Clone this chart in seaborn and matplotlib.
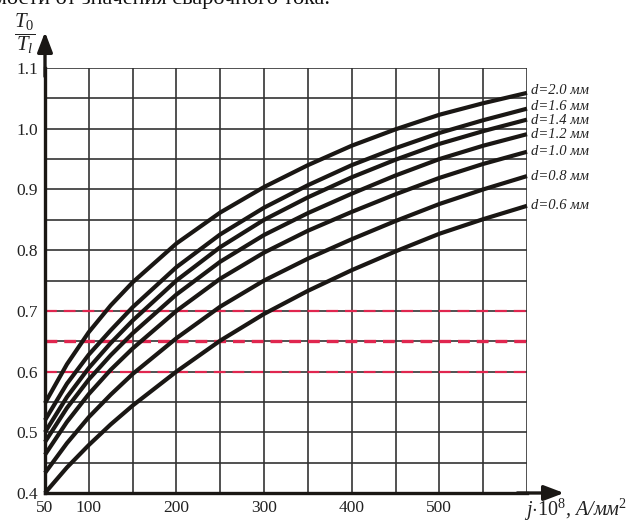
import numpy as np
import pandas as pd
import matplotlib
matplotlib.use("Agg")
import matplotlib.pyplot as plt
import seaborn as sns

# ---- data ----
j_values = [50, 75, 100, 125, 150, 200, 250, 300, 350, 400, 450, 500, 550, 600]
d_labels = ["d=2.0 мм", "d=1.6 мм", "d=1.4 мм", "d=1.2 мм", "d=1.0 мм", "d=0.8 мм", "d=0.6 мм"]
ratio_d20 = [0.548, 0.612, 0.665, 0.709, 0.747, 0.811, 0.862, 0.904, 0.940, 0.972, 0.999, 1.023, 1.042, 1.059]
ratio_d16 = [0.520, 0.580, 0.628, 0.668, 0.706, 0.772, 0.826, 0.870, 0.907, 0.940, 0.968, 0.993, 1.014, 1.033]
ratio_d14 = [0.500, 0.558, 0.606, 0.647, 0.684, 0.750, 0.805, 0.850, 0.887, 0.920, 0.949, 0.975, 0.996, 1.015]
ratio_d12 = [0.484, 0.540, 0.587, 0.627, 0.663, 0.727, 0.781, 0.825, 0.861, 0.893, 0.923, 0.950, 0.972, 0.991]
ratio_d10 = [0.463, 0.517, 0.563, 0.603, 0.638, 0.700, 0.753, 0.796, 0.832, 0.863, 0.892, 0.919, 0.942, 0.962]
ratio_d08 = [0.433, 0.482, 0.525, 0.562, 0.596, 0.655, 0.707, 0.750, 0.786, 0.818, 0.848, 0.876, 0.900, 0.922]
ratio_d06 = [0.400, 0.442, 0.479, 0.513, 0.544, 0.600, 0.651, 0.695, 0.733, 0.767, 0.798, 0.827, 0.851, 0.873]
ref_levels = [0.6, 0.65, 0.7]
x_ticks = [50, 100, 200, 300, 400, 500]
y_ticks = [0.4, 0.5, 0.6, 0.7, 0.8, 0.9, 1.0, 1.1]

series = [ratio_d20, ratio_d16, ratio_d14, ratio_d12, ratio_d10, ratio_d08, ratio_d06]
df = pd.DataFrame({
    "j": j_values * len(series),
    "ratio": [v for s in series for v in s],
    "d": [lab for lab in d_labels for _ in j_values],
})

sns.set_theme(style="white")
plt.rcParams["font.family"] = ["Liberation Serif", "DejaVu Serif"]
plt.rcParams["mathtext.fontset"] = "custom"
plt.rcParams["mathtext.it"] = "Liberation Serif:italic"
plt.rcParams["mathtext.rm"] = "Liberation Serif"
plt.rcParams["lines.scale_dashes"] = False

fig = plt.figure(figsize=(6.42, 5.23), dpi=100)
ax = fig.add_axes([45 / 642, 30 / 523, 482 / 642, 425 / 523])

ax.set_xlim(50, 600)
ax.set_ylim(0.4, 1.1)

# grid every 50 and every 0.05
ax.set_xticks(np.arange(50, 601, 50), minor=True)
ax.set_yticks(np.arange(0.4, 1.101, 0.05), minor=True)
ax.set_xticks(x_ticks)
ax.set_yticks(y_ticks)
ax.grid(which="both", color="#333333", linewidth=1.2)
ax.set_xticklabels([str(v) for v in x_ticks], fontsize=12.5)
ax.set_yticklabels([f"{v:.1f}" for v in y_ticks], fontsize=12.5)
ax.tick_params(which="both", length=0, pad=5, colors="#222222")
ax.set_axisbelow(True)

for side in ["top", "right"]:
    ax.spines[side].set_visible(False)
for side in ["left", "bottom"]:
    ax.spines[side].set_color("#1a1714")
    ax.spines[side].set_linewidth(2.4)
    ax.spines[side].set_zorder(5)

# red dashed reference lines
for lvl in ref_levels:
    lw = 2.4 if abs(lvl - 0.65) < 1e-9 else 1.6
    ax.axhline(lvl, color="#e0264f", linewidth=lw, linestyle=(0, (8.5, 5)), zorder=2)

# curves
sns.lineplot(data=df, x="j", y="ratio", hue="d", hue_order=d_labels,
             palette=["#1a1714"] * len(d_labels), linewidth=3.0,
             legend=False, ax=ax, zorder=3)
for line in ax.lines[-len(d_labels):]:
    line.set_solid_capstyle("butt")
    line.set_solid_joinstyle("round")
    line.set_clip_on(False)

ax.set_xlabel("")
ax.set_ylabel("")

# curve labels (small vertical nudges in points, as in the reference)
label_nudge = [1.5, 1.5, -1.0, 0.0, 0.0, 0.0, 0.0]
for lab, s, dy in zip(d_labels, series, label_nudge):
    ax.annotate(lab, xy=(604, s[-1]), xytext=(0, dy), textcoords="offset points",
                fontsize=10.5, style="italic", va="center", ha="left", color="#222222",
                annotation_clip=False)

# axis arrows
ax.annotate("", xy=((564 - 45) / 482, 0), xytext=(0.98, 0), xycoords="axes fraction",
            arrowprops=dict(arrowstyle="-|>,head_length=1.0,head_width=0.38",
                            color="#1a1714", lw=2.4, shrinkA=0, shrinkB=0))
ax.annotate("", xy=(0, (493 - 32) / 425), xytext=(0, 0.98), xycoords="axes fraction",
            arrowprops=dict(arrowstyle="-|>,head_length=1.0,head_width=0.38",
                            color="#1a1714", lw=2.4, shrinkA=0, shrinkB=0))

# axis titles
fig.text(25 / 642, 1 - 34 / 523, r"$\dfrac{T_{\mathit{0}}}{T_{\mathit{l}}}$", fontsize=15,
         ha="center", va="center", color="#222222")
fig.text(524 / 642, 1 - 516 / 523, r"$j{\cdot}\mathit{10}^{\mathit{8}}$, А/мм$^{\mathit{2}}$",
         fontsize=14.5, style="italic", ha="left", va="baseline", color="#222222")

# clipped line of text above the chart
fig.text(330 / 642, 1 - 4 / 523, "в зависимости от значения сварочного тока.", fontsize=16,
         ha="right", va="baseline", color="#111111")

fig.savefig("out.png", dpi=100)
